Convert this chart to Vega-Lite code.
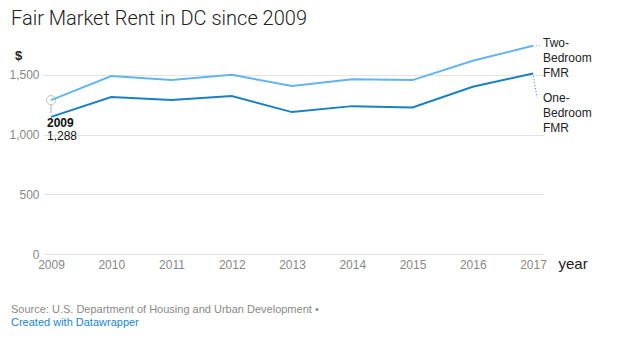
{
  "$schema": "https://vega.github.io/schema/vega-lite/v6.json",
  "autosize": {"type": "pad"},
  "padding": {"left": 8, "top": 8, "right": 0, "bottom": 0},
  "background": "white",
  "title": {
    "text": "Fair Market Rent in DC since 2009",
    "anchor": "start",
    "frame": "group",
    "dx": -32,
    "font": "Roboto",
    "fontWeight": 300,
    "fontSize": 20,
    "color": "#222222",
    "offset": 8
  },
  "config": {
    "view": {"stroke": null},
    "font": "Liberation Sans",
    "concat": {"spacing": 0}
  },
  "datasets": {
    "rent": [
      {"year": 2009, "type": "Two-Bedroom FMR", "value": 1288},
      {"year": 2010, "type": "Two-Bedroom FMR", "value": 1490},
      {"year": 2011, "type": "Two-Bedroom FMR", "value": 1456},
      {"year": 2012, "type": "Two-Bedroom FMR", "value": 1500},
      {"year": 2013, "type": "Two-Bedroom FMR", "value": 1406},
      {"year": 2014, "type": "Two-Bedroom FMR", "value": 1464},
      {"year": 2015, "type": "Two-Bedroom FMR", "value": 1456},
      {"year": 2016, "type": "Two-Bedroom FMR", "value": 1618},
      {"year": 2017, "type": "Two-Bedroom FMR", "value": 1743},
      {"year": 2009, "type": "One-Bedroom FMR", "value": 1148},
      {"year": 2010, "type": "One-Bedroom FMR", "value": 1314},
      {"year": 2011, "type": "One-Bedroom FMR", "value": 1289},
      {"year": 2012, "type": "One-Bedroom FMR", "value": 1322},
      {"year": 2013, "type": "One-Bedroom FMR", "value": 1188},
      {"year": 2014, "type": "One-Bedroom FMR", "value": 1238},
      {"year": 2015, "type": "One-Bedroom FMR", "value": 1227},
      {"year": 2016, "type": "One-Bedroom FMR", "value": 1400},
      {"year": 2017, "type": "One-Bedroom FMR", "value": 1512}
    ],
    "labels": [
      {"year": 2017, "type": "Two-Bedroom FMR", "value": 1743, "label": "Two-\nBedroom\nFMR"},
      {"year": 2017, "type": "One-Bedroom FMR", "value": 1512, "label": "One-\nBedroom\nFMR"}
    ]
  },
  "vconcat": [
    {
      "width": 501,
      "height": 215,
      "title": {
        "text": "Source: U.S. Department of Housing and Urban Development •",
        "subtitle": "Created with Datawrapper",
        "orient": "bottom",
        "anchor": "start",
        "frame": "group",
        "dx": -32,
        "offset": 33,
        "font": "Liberation Sans",
        "fontSize": 11,
        "fontWeight": "normal",
        "color": "#8a8a8a",
        "subtitleFont": "Liberation Sans",
        "subtitleFontSize": 11,
        "subtitleColor": "#1b86d0",
        "subtitlePadding": 2
      },
      "layer": [
        {
          "data": {"name": "rent"},
          "mark": {"type": "line", "strokeWidth": 2},
          "encoding": {
            "x": {
              "field": "year",
              "type": "quantitative",
              "scale": {"domain": [2008.867, 2017.183], "nice": false, "zero": false},
              "axis": {
                "values": [2009, 2010, 2011, 2012, 2013, 2014, 2015, 2016, 2017],
                "format": "d",
                "grid": false,
                "domain": false,
                "ticks": false,
                "labelFont": "Liberation Sans",
                "labelFontSize": 12,
                "labelColor": "#888888",
                "labelPadding": 5,
                "labelFlush": false,
                "title": "year",
                "titleX": 515,
                "titleY": 9,
                "titleAlign": "left",
                "titleBaseline": "middle",
                "titleAnchor": null,
                "titleFont": "Liberation Sans",
                "titleFontSize": 15,
                "titleFontWeight": "normal",
                "titleColor": "#222222"
              }
            },
            "y": {
              "field": "value",
              "type": "quantitative",
              "scale": {"domain": [0, 1800], "nice": false},
              "axis": {
                "values": [0, 500, 1000, 1500],
                "format": ",d",
                "grid": true,
                "gridColor": "#e3e3e3",
                "domain": false,
                "ticks": false,
                "labelFont": "Liberation Sans",
                "labelFontSize": 12,
                "labelColor": "#888888",
                "labelPadding": 4,
                "title": "$",
                "titleAngle": 0,
                "titleX": -25,
                "titleY": 16,
                "titleAlign": "center",
                "titleBaseline": "middle",
                "titleFont": "Liberation Sans",
                "titleFontSize": 13,
                "titleFontWeight": "bold",
                "titleColor": "#222222"
              }
            },
            "color": {
              "field": "type",
              "type": "nominal",
              "scale": {"domain": ["Two-Bedroom FMR", "One-Bedroom FMR"], "range": ["#63b5f0", "#1a80c4"]},
              "legend": null
            }
          }
        },
        {
          "data": {"name": "labels"},
          "transform": [{"filter": "datum.type === 'Two-Bedroom FMR'"}],
          "mark": {"type": "rule", "strokeDash": [1, 2], "strokeWidth": 1, "color": "#63b5f0", "x2Offset": 8},
          "encoding": {
            "x": {"field": "year", "type": "quantitative"},
            "x2": {"field": "year"},
            "y": {"field": "value", "type": "quantitative"},
            "y2": {"field": "value"}
          }
        },
        {
          "data": {"name": "labels"},
          "transform": [{"filter": "datum.type === 'One-Bedroom FMR'"}],
          "mark": {"type": "rule", "strokeDash": [1, 2], "strokeWidth": 1, "color": "#1a80c4", "x2Offset": 4, "y2Offset": 24},
          "encoding": {
            "x": {"field": "year", "type": "quantitative"},
            "x2": {"field": "year"},
            "y": {"field": "value", "type": "quantitative"},
            "y2": {"field": "value"}
          }
        },
        {
          "data": {"name": "labels"},
          "transform": [{"filter": "datum.type === 'Two-Bedroom FMR'"}],
          "mark": {"type": "text", "align": "left", "baseline": "top", "dx": 10, "dy": -8, "lineBreak": "\n", "lineHeight": 15, "fontSize": 12, "font": "Liberation Sans", "color": "#222222"},
          "encoding": {
            "x": {"field": "year", "type": "quantitative"},
            "y": {"field": "value", "type": "quantitative"},
            "text": {"field": "label"}
          }
        },
        {
          "data": {"name": "labels"},
          "transform": [{"filter": "datum.type === 'One-Bedroom FMR'"}],
          "mark": {"type": "text", "align": "left", "baseline": "top", "dx": 10, "dy": 20, "lineBreak": "\n", "lineHeight": 15, "fontSize": 12, "font": "Liberation Sans", "color": "#222222"},
          "encoding": {
            "x": {"field": "year", "type": "quantitative"},
            "y": {"field": "value", "type": "quantitative"},
            "text": {"field": "label"}
          }
        },
        {
          "data": {"name": "rent"},
          "transform": [{"filter": "datum.type === 'Two-Bedroom FMR' && datum.year === 2009"}],
          "mark": {"type": "rule", "color": "#aaaaaa", "strokeWidth": 1, "yOffset": 5, "y2Offset": 13},
          "encoding": {
            "x": {"field": "year", "type": "quantitative"},
            "y": {"field": "value", "type": "quantitative"},
            "y2": {"field": "value"}
          }
        },
        {
          "data": {"name": "rent"},
          "transform": [{"filter": "datum.type === 'Two-Bedroom FMR' && datum.year === 2009"}],
          "mark": {"type": "point", "filled": false, "color": "#aaaaaa", "strokeWidth": 1, "size": 85},
          "encoding": {
            "x": {"field": "year", "type": "quantitative"},
            "y": {"field": "value", "type": "quantitative"}
          }
        },
        {
          "data": {"name": "rent"},
          "transform": [{"filter": "datum.type === 'Two-Bedroom FMR' && datum.year === 2009"}],
          "mark": {"type": "text", "align": "left", "baseline": "middle", "dx": -4, "dy": 23, "fontSize": 12, "fontWeight": "bold", "font": "Liberation Sans", "color": "#111111"},
          "encoding": {
            "x": {"field": "year", "type": "quantitative"},
            "y": {"field": "value", "type": "quantitative"},
            "text": {"field": "year", "type": "quantitative", "format": "d"}
          }
        },
        {
          "data": {"name": "rent"},
          "transform": [{"filter": "datum.type === 'Two-Bedroom FMR' && datum.year === 2009"}],
          "mark": {"type": "text", "align": "left", "baseline": "middle", "dx": -4, "dy": 36, "fontSize": 12, "font": "Liberation Sans", "color": "#111111"},
          "encoding": {
            "x": {"field": "year", "type": "quantitative"},
            "y": {"field": "value", "type": "quantitative"},
            "text": {"field": "value", "type": "quantitative", "format": ",d"}
          }
        }
      ]
    }
  ]
}
